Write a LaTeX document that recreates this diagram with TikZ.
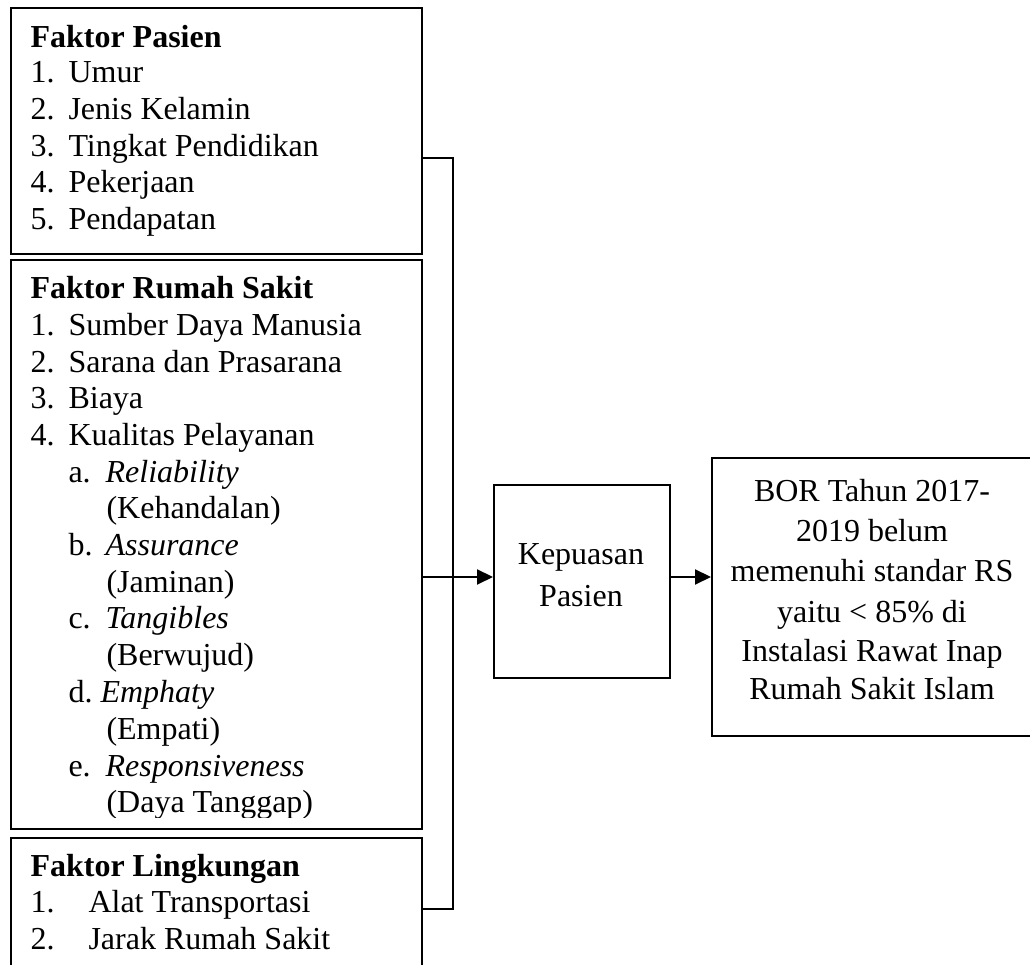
\documentclass[tikz,border=0pt]{standalone}
\usepackage{fontspec}
\setmainfont{Liberation Serif}
\usetikzlibrary{arrows.meta}
\tikzset{
  box/.style={draw, line width=0.85pt, inner sep=0pt, anchor=north west},
  txt/.style={anchor=base west, inner sep=0pt, font=\fontsize{12pt}{13.8pt}\selectfont},
  ctxt/.style={anchor=base, inner sep=0pt, font=\fontsize{12pt}{13.8pt}\selectfont},
  conn/.style={line width=0.7pt},
  arr/.style={line width=0.9pt, -{Triangle[length=6pt,width=5.6pt]}},
}
\newcommand{\numA}[1]{\makebox[14.25pt][l]{#1}}
\newcommand{\numB}[1]{\makebox[13.9pt][l]{#1}}
\newcommand{\numC}[1]{\makebox[21.75pt][l]{#1}}
\begin{document}
\begin{tikzpicture}[x=0.375pt,y=-0.375pt]
\useasboundingbox (0,0) rectangle (1030,965);
% boxes
\node[box, minimum width=154.125pt, minimum height=92.25pt] (b1) at (10,7) {};
\node[box, minimum width=154.125pt, minimum height=213.375pt] (b2) at (10,259) {};
\node[box, minimum width=154.125pt, minimum height=49.875pt] (b3) at (10,837) {};
\node[box, minimum width=66pt, minimum height=72.375pt] (kep) at (493,484) {};
\node[box, minimum width=120.75pt, minimum height=104.25pt] (bor) at (711,457) {};
% box 1 text
\node[txt] (t1h) at (30,48) {\textbf{Faktor Pasien}};
\node[txt] (t11) at (30,83) {\numA{1.}Umur};
\node[txt] (t12) at (30,120) {\numA{2.}Jenis Kelamin};
\node[txt] (t13) at (30,157) {\numA{3.}Tingkat Pendidikan};
\node[txt] (t14) at (30,193) {\numA{4.}Pekerjaan};
\node[txt] (t15) at (30,230) {\numA{5.}Pendapatan};
% box 2 text
\begin{scope}
\clip (10,259) rectangle (421,818);
\node[txt] (t2h) at (30,299) {\textbf{Faktor Rumah Sakit}};
\node[txt] (t21) at (30,336) {\numA{1.}Sumber Daya Manusia};
\node[txt] (t22) at (30,373) {\numA{2.}Sarana dan Prasarana};
\node[txt] (t23) at (30,409) {\numA{3.}Biaya};
\node[txt] (t24) at (30,446) {\numA{4.}Kualitas Pelayanan};
\node[txt] (t2a) at (68,483) {\numB{a.}\textit{Reliability}};
\node[txt] (t2a2) at (106,519) {(Kehandalan)};
\node[txt] (t2b) at (68,556) {\numB{b.}\textit{Assurance}};
\node[txt] (t2b2) at (106,593) {(Jaminan)};
\node[txt] (t2c) at (68,629) {\numB{c.}\textit{Tangibles}};
\node[txt] (t2c2) at (106,666) {(Berwujud)};
\node[txt] (t2d) at (68,703) {\makebox[12pt][l]{d.}\textit{Emphaty}};
\node[txt] (t2d2) at (106,740) {(Empati)};
\node[txt] (t2e) at (68,777) {\numB{e.}\textit{Responsiveness}};
\node[txt] (t2e2) at (106,813) {(Daya Tanggap)};
\end{scope}
% box 3 text
\node[txt] (t3h) at (30,877) {\textbf{Faktor Lingkungan}};
\node[txt] (t31) at (30,913) {\numC{1.}Alat Transportasi};
\node[txt] (t32) at (30,950) {\numC{2.}Jarak Rumah Sakit};
% middle box text
\node[ctxt] (k1) at (581,565) {Kepuasan};
\node[ctxt] (k2) at (581,607) {Pasien};
% right box text
\node[ctxt] (r1) at (872,502) {BOR Tahun 2017-};
\node[ctxt] (r2) at (872,542) {2019 belum};
\node[ctxt] (r3) at (872,582) {memenuhi standar RS};
\node[ctxt] (r4) at (872,623) {yaitu < 85\% di};
\node[ctxt] (r5) at (872,662) {Instalasi Rawat Inap};
\node[ctxt] (r6) at (872,700) {Rumah Sakit Islam};
% connectors
\coordinate (j1) at (453,158);
\coordinate (j2) at (453,577);
\coordinate (j3) at (453,909);
\draw[conn] (b1.east |- j1) -- (j1) -- (j3) -- (b3.east |- j3);
\draw[conn] (b2.east |- j2) -- (j2);
\draw[arr] (j2) -- (kep.west |- j2);
\draw[arr] (kep.east |- j2) -- (bor.west |- j2);
\end{tikzpicture}
\end{document}
